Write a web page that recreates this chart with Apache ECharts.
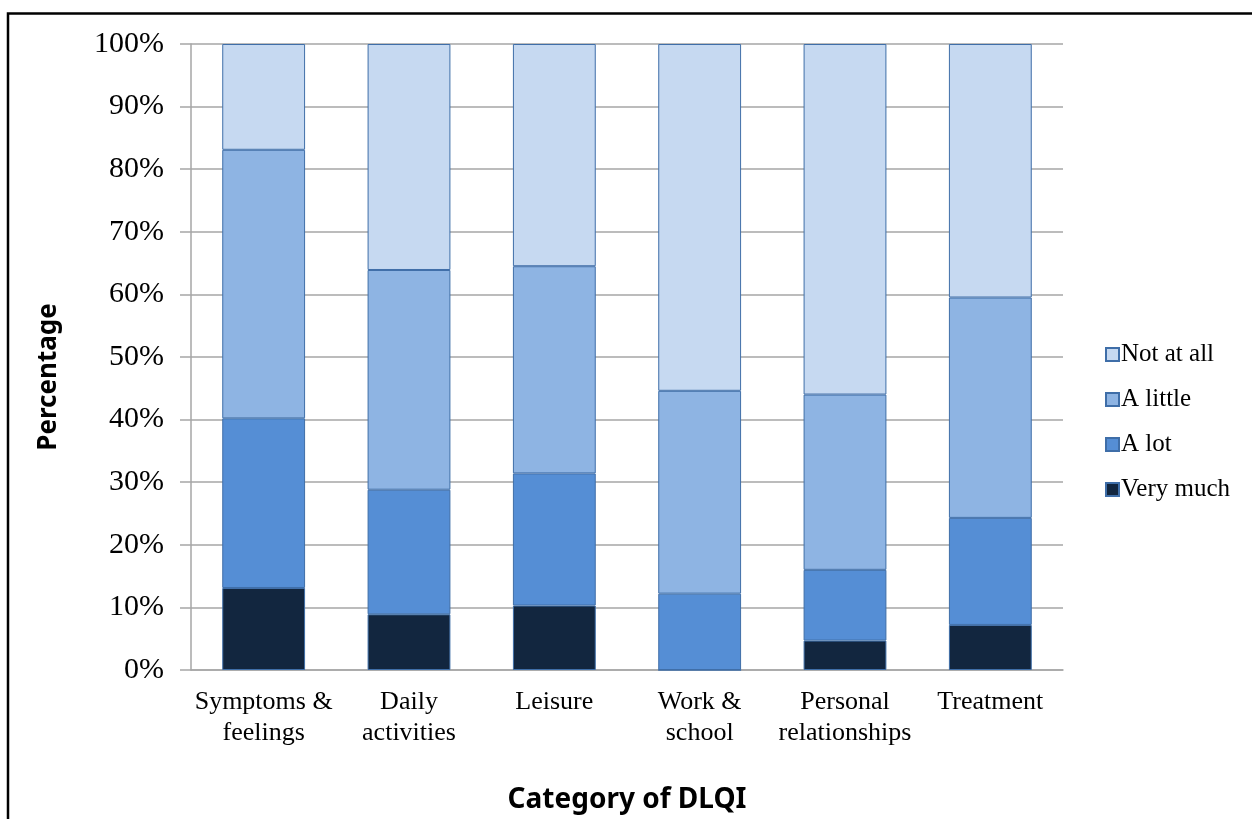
<!DOCTYPE html>
<html>
<head>
<meta charset="utf-8">
<script src="https://cdn.jsdelivr.net/npm/echarts@6/dist/echarts.min.js"></script>
<style>
  html, body { margin: 0; padding: 0; background: #fff; }
  #chart { width: 1252px; height: 819px; }
</style>
</head>
<body>
<div id="chart"></div>
<script>
// DLQI categories and the share of answers per response level (%)
const categories = ['Symptoms &\nfeelings', 'Daily\nactivities', 'Leisure', 'Work &\nschool', 'Personal\nrelationships', 'Treatment'];
const veryMuch = [13.1, 8.9, 10.3, 0, 4.7, 7.2];
const aLot     = [27.1, 19.9, 21.1, 12.2, 11.3, 17.1];
const aLittle  = [42.9, 35.1, 33.1, 32.4, 28.0, 35.2];
const notAtAll = [16.9, 36.1, 35.5, 55.4, 56.0, 40.5];
const yTicks = [0, 10, 20, 30, 40, 50, 60, 70, 80, 90, 100];

const serif = '"Liberation Serif", "Times New Roman", serif';
const sans = '"Noto Sans", "Open Sans", sans-serif';
const edge = '#3F6EA8';

function layer(name, data, color) {
  return {
    name: name,
    type: 'bar',
    stack: 'total',
    barWidth: '57%',
    data: data,
    itemStyle: { color: color, borderColor: edge, borderWidth: 1 },
    emphasis: { disabled: true }
  };
}

const chart = echarts.init(document.getElementById('chart'), null, { renderer: 'canvas' });
chart.setOption({
  animation: false,
  backgroundColor: '#ffffff',
  grid: { left: 191, right: 189, top: 44, bottom: 149, containLabel: false },
  legend: {
    orient: 'vertical',
    left: 1100,
    top: 337,
    itemWidth: 13,
    itemHeight: 13,
    itemGap: 20,
    icon: 'rect',
    data: ['Not at all', 'A little', 'A lot', 'Very much'],
    textStyle: { fontFamily: serif, fontSize: 25, color: '#000', lineHeight: 25, padding: [0, 0, 0, -3] }
  },
  xAxis: {
    type: 'category',
    data: categories,
    axisLine: { show: true, lineStyle: { color: '#A6A6A6', width: 1.5 } },
    axisTick: { show: false },
    axisLabel: { fontFamily: serif, fontSize: 26, color: '#000', lineHeight: 31, margin: 17, interval: 0 }
  },
  yAxis: {
    type: 'value',
    min: 0,
    max: 100,
    interval: 10,
    axisLine: { show: true, lineStyle: { color: '#A6A6A6', width: 1.5 } },
    axisTick: { show: true, length: 11, lineStyle: { color: '#A6A6A6', width: 1.5 } },
    splitLine: { show: true, lineStyle: { color: '#A6A6A6', width: 1.5 } },
    axisLabel: {
      fontFamily: serif, fontSize: 30, color: '#000', margin: 27,
      formatter: function (v) { return yTicks.indexOf(v) >= 0 ? v + '%' : ''; }
    }
  },
  series: [
    layer('Very much', veryMuch, '#12263F'),
    layer('A lot', aLot, '#558ED5'),
    layer('A little', aLittle, '#8EB4E3'),
    layer('Not at all', notAtAll, '#C6D9F1')
  ],
  graphic: [
    {
      type: 'rect',
      shape: { x: 8, y: 13.5, width: 1300, height: 900 },
      style: { fill: 'none', stroke: '#000', lineWidth: 2.5 },
      silent: true
    },
    {
      type: 'text',
      x: 49, y: 377,
      rotation: Math.PI / 2,
      style: {
        text: 'Percentage', fontFamily: sans, fontWeight: 'bold',
        fontSize: 26, fill: '#000', align: 'center', verticalAlign: 'middle'
      }
    },
    {
      type: 'text',
      x: 627, y: 800,
      style: {
        text: 'Category of DLQI', fontFamily: sans, fontWeight: 'bold',
        fontSize: 28, fill: '#000', align: 'center', verticalAlign: 'middle'
      }
    }
  ]
});
</script>
</body>
</html>
